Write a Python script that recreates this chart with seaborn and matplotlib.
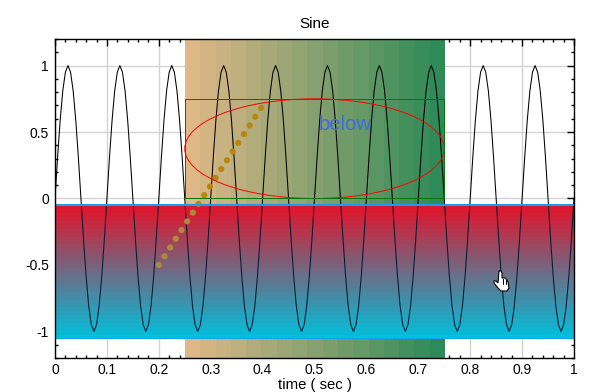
import numpy as np
import matplotlib
matplotlib.use('Agg')
import matplotlib.pyplot as plt
import seaborn as sns
from matplotlib.colors import LinearSegmentedColormap
from matplotlib.patches import Rectangle, Ellipse, Polygon
from matplotlib.transforms import IdentityTransform
from matplotlib.ticker import MultipleLocator, FormatStrFormatter

# values, one row is one cycle
time = [
    0.000, 0.005, 0.010, 0.015, 0.020, 0.025, 0.030, 0.035, 0.040, 0.045, 0.050, 0.055, 0.060, 0.065, 0.070, 0.075, 0.080, 0.085, 0.090, 0.095,
    0.100, 0.105, 0.110, 0.115, 0.120, 0.125, 0.130, 0.135, 0.140, 0.145, 0.150, 0.155, 0.160, 0.165, 0.170, 0.175, 0.180, 0.185, 0.190, 0.195,
    0.200, 0.205, 0.210, 0.215, 0.220, 0.225, 0.230, 0.235, 0.240, 0.245, 0.250, 0.255, 0.260, 0.265, 0.270, 0.275, 0.280, 0.285, 0.290, 0.295,
    0.300, 0.305, 0.310, 0.315, 0.320, 0.325, 0.330, 0.335, 0.340, 0.345, 0.350, 0.355, 0.360, 0.365, 0.370, 0.375, 0.380, 0.385, 0.390, 0.395,
    0.400, 0.405, 0.410, 0.415, 0.420, 0.425, 0.430, 0.435, 0.440, 0.445, 0.450, 0.455, 0.460, 0.465, 0.470, 0.475, 0.480, 0.485, 0.490, 0.495,
    0.500, 0.505, 0.510, 0.515, 0.520, 0.525, 0.530, 0.535, 0.540, 0.545, 0.550, 0.555, 0.560, 0.565, 0.570, 0.575, 0.580, 0.585, 0.590, 0.595,
    0.600, 0.605, 0.610, 0.615, 0.620, 0.625, 0.630, 0.635, 0.640, 0.645, 0.650, 0.655, 0.660, 0.665, 0.670, 0.675, 0.680, 0.685, 0.690, 0.695,
    0.700, 0.705, 0.710, 0.715, 0.720, 0.725, 0.730, 0.735, 0.740, 0.745, 0.750, 0.755, 0.760, 0.765, 0.770, 0.775, 0.780, 0.785, 0.790, 0.795,
    0.800, 0.805, 0.810, 0.815, 0.820, 0.825, 0.830, 0.835, 0.840, 0.845, 0.850, 0.855, 0.860, 0.865, 0.870, 0.875, 0.880, 0.885, 0.890, 0.895,
    0.900, 0.905, 0.910, 0.915, 0.920, 0.925, 0.930, 0.935, 0.940, 0.945, 0.950, 0.955, 0.960, 0.965, 0.970, 0.975, 0.980, 0.985, 0.990, 0.995,
    1.000,
]
sine = [
    0, .31, .59, .81, .95, 1, .95, .81, .59, .31, 0, -.31, -.59, -.81, -.95, -1, -.95, -.81, -.59, -.31,
    0, .31, .59, .81, .95, 1, .95, .81, .59, .31, 0, -.31, -.59, -.81, -.95, -1, -.95, -.81, -.59, -.31,
    0, .31, .59, .81, .95, 1, .95, .81, .59, .31, 0, -.31, -.59, -.81, -.95, -1, -.95, -.81, -.59, -.31,
    0, .31, .59, .81, .95, 1, .95, .81, .59, .31, 0, -.31, -.59, -.81, -.95, -1, -.95, -.81, -.59, -.31,
    0, .31, .59, .81, .95, 1, .95, .81, .59, .31, 0, -.31, -.59, -.81, -.95, -1, -.95, -.81, -.59, -.31,
    0, .31, .59, .81, .95, 1, .95, .81, .59, .31, 0, -.31, -.59, -.81, -.95, -1, -.95, -.81, -.59, -.31,
    0, .31, .59, .81, .95, 1, .95, .81, .59, .31, 0, -.31, -.59, -.81, -.95, -1, -.95, -.81, -.59, -.31,
    0, .31, .59, .81, .95, 1, .95, .81, .59, .31, 0, -.31, -.59, -.81, -.95, -1, -.95, -.81, -.59, -.31,
    0, .31, .59, .81, .95, 1, .95, .81, .59, .31, 0, -.31, -.59, -.81, -.95, -1, -.95, -.81, -.59, -.31,
    0, .31, .59, .81, .95, 1, .95, .81, .59, .31, 0, -.31, -.59, -.81, -.95, -1, -.95, -.81, -.59, -.31,
    0,
]
x_ticks = [0, 0.1, 0.2, 0.3, 0.4, 0.5, 0.6, 0.7, 0.8, 0.9, 1]
y_ticks = [-1, -0.5, 0, 0.5, 1]
vband_x = [0.25, 0.75]
hband_y = [-1.05, -0.05]
box_x = [0.25, 0.75]
box_y = [0, 0.75]
arrow_x = [0.2, 0.4]
arrow_y = [-0.5, 0.7]
note_x = 0.56
note_y = 0.56

sns.set_style('white')
plt.rcParams['font.family'] = ['Liberation Sans', 'DejaVu Sans']
plt.rcParams['axes.unicode_minus'] = False

fig = plt.figure(figsize=(5.91, 3.92), dpi=100)
ax = fig.add_axes([55 / 591, 1 - 358 / 392, 519 / 591, 319 / 392])

# grid by hand so it stays under the bands while the ticks stay on top
for x in x_ticks:
    ax.axvline(x, color='lightgray', lw=1, zorder=0.5)
for y in y_ticks:
    ax.axhline(y, color='lightgray', lw=1, zorder=0.5)

# vertical band, tan to green in coarse steps
tan_green = LinearSegmentedColormap.from_list('tan_green', ['#deb887', '#2e8b57'], N=17)
ax.imshow(np.linspace(0, 1, 17).reshape(1, -1), cmap=tan_green, aspect='auto', interpolation='nearest',
          extent=[vband_x[0], vband_x[1], -1.2, 1.2], zorder=0.7)

sns.lineplot(x=time, y=sine, color='black', lw=0.75, estimator=None, sort=False, ax=ax, zorder=1)
sns.lineplot(x=arrow_x, y=arrow_y, color='darkgoldenrod', lw=4.5, ls=(0, (0.01, 1.655)), dash_capstyle='round',
             estimator=None, sort=False, ax=ax, zorder=1.1)

# horizontal band, red to cyan
red_cyan = LinearSegmentedColormap.from_list('red_cyan', ['#e0152c', '#00c0dc'], N=34)
ax.imshow(np.linspace(0, 1, 34).reshape(-1, 1), cmap=red_cyan, aspect='auto', interpolation='nearest',
          extent=[0, 1, hband_y[0] - 0.006, hband_y[1]], zorder=1.3)
band_clip = Rectangle((0, hband_y[0]), 1, hband_y[1] - hband_y[0], transform=ax.transData)
sine_over = ax.plot(time, sine, color='#041a30', lw=0.75, zorder=1.4)[0]
sine_over.set_clip_path(band_clip)
dots_over = ax.plot(arrow_x, arrow_y, color='#ad8a3c', lw=4.5, ls=(0, (0.01, 1.655)), dash_capstyle='round', zorder=1.4)[0]
dots_over.set_clip_path(band_clip)

ax.plot([0, 1], [hband_y[1], hband_y[1]], color='#1e9be6', lw=1.5, zorder=1.5)
ax.plot([0, 1], [hband_y[0], hband_y[0]], color='dodgerblue', lw=0.6, ls=(0, (3, 1.5)), zorder=1.5)
ax.plot([0, 0], hband_y, color='dodgerblue', lw=0.8, ls=(0, (1, 1.5)), zorder=1.5)
ax.plot([1, 1], hband_y, color='dodgerblue', lw=0.8, ls=(0, (1, 1.5)), zorder=1.5)

ax.add_patch(Ellipse(((box_x[0] + box_x[1]) / 2, (box_y[0] + box_y[1]) / 2), box_x[1] - box_x[0], box_y[1] - box_y[0],
                     fill=False, edgecolor='red', lw=0.7, zorder=1.6))
ax.add_patch(Rectangle((box_x[0], box_y[0]), box_x[1] - box_x[0], box_y[1] - box_y[0], fill=False,
                       edgecolor='#0a750a', lw=0.72, zorder=1.6))
ax.text(note_x, note_y, 'below', color='royalblue', fontsize=14.6, ha='center', va='center', zorder=1.7)

ax.set_xlim(0, 1)
ax.set_ylim(-1.2, 1.2)
ax.set_xticks(x_ticks)
ax.set_yticks(y_ticks)
ax.xaxis.set_major_formatter(FormatStrFormatter('%g'))
ax.yaxis.set_major_formatter(FormatStrFormatter('%g'))
ax.xaxis.set_minor_locator(MultipleLocator(0.02))
ax.yaxis.set_minor_locator(MultipleLocator(0.1))
ax.tick_params(which='major', direction='in', length=5, width=1, top=True, right=True, labelsize=10, color='black',
               labelcolor='black')
ax.tick_params(which='minor', direction='in', length=2.2, width=1, top=True, right=True, bottom=True, left=True,
               color='black')
ax.tick_params(axis='x', which='major', pad=3.5)
ax.tick_params(axis='y', which='major', pad=4.5)
for side in ax.spines.values():
    side.set_visible(True)
    side.set_color('black')
    side.set_linewidth(1)
ax.set_title('Sine', fontsize=11, color='black', pad=8)
ax.set_xlabel('time ( sec )', fontsize=10.7, color='black', labelpad=1)
ax.set_ylabel('')

# mouse pointer that sits on the picture, in image pixels
def px(points):
    return [(a, 392 - b) for a, b in points]

hand = [(499, 271), (501, 271), (502, 273), (502, 278), (505, 278), (507, 280), (508, 282), (509, 288), (507, 291),
        (501, 291), (498, 288), (494, 283), (494, 281), (496, 281), (498, 283)]
fig.add_artist(Polygon(px(hand), closed=True, facecolor='white', edgecolor='black', lw=0.8, transform=IdentityTransform()))
for a in (503, 506):
    fig.add_artist(plt.Line2D([a, a], [392 - 279, 392 - 284], color='black', lw=0.7, transform=IdentityTransform()))

fig.savefig('out.png', dpi=100, facecolor='white')
